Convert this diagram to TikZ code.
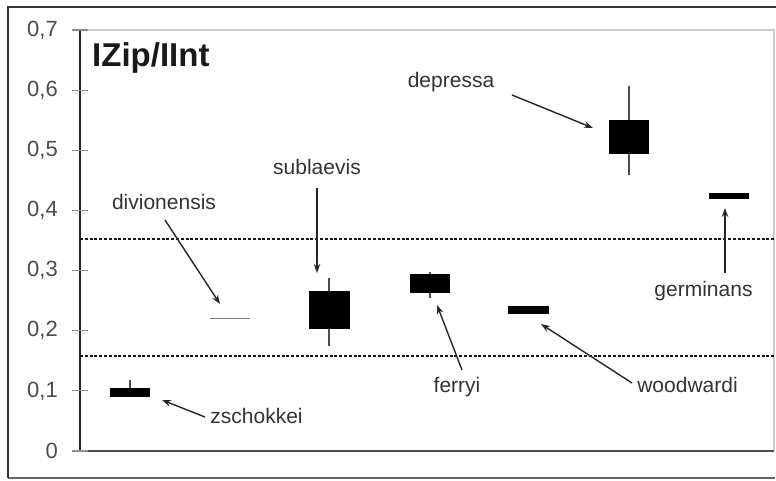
\documentclass[tikz,border=0pt]{standalone}
\usepackage{fontspec}
\setmainfont{Liberation Sans}
\usetikzlibrary{arrows.meta}
\begin{document}
\begin{tikzpicture}[x=1pt,y=-1pt,
  lbl/.style={font=\fontsize{21}{25}\selectfont, text=black!80, inner sep=1pt, anchor=base},
  ticklbl/.style={font=\fontsize{22}{26}\selectfont, text=black!70, anchor=east, inner sep=0pt},
  bar/.style={fill=black, draw=none, inner sep=0pt},
  whisk/.style={draw=black!70, line width=1.2pt},
  pointer/.style={draw=black!85, line width=1.4pt, -{Stealth[length=9pt,width=6.5pt]}},
  limit/.style={draw=black!90, line width=2.4pt, dash pattern=on 3pt off 1.8pt}]
\useasboundingbox (0,0) rectangle (776,481);
\fill[white] (0,0) rectangle (776,481);
% outer frame
\draw[black!60, line width=1.2pt] (8,478) -- (775,478);
\draw[black!80, line width=1.6pt] (8,478) -- (8,7) -- (776,7);
% plot area
\draw[black!20, line width=2.5pt] (80,30) -- (774,30) -- (774,451);
\draw[black!70, line width=1.4pt] (80,451) -- (774,451);
\draw[black!85, line width=1.4pt] (80,30) -- (80,451);
% ticks and labels
\foreach \v/\t in {0/0,1/{0,1},2/{0,2},3/{0,3},4/{0,4},5/{0,5},6/{0,6},7/{0,7}} {
  \draw[black!45, line width=1.2pt] (72,451-\v*60.14) -- (88,451-\v*60.14);
  \node[ticklbl] (t\v) at (58,451-\v*60.14) {\t};
}
% limits
\draw[limit] (80,239) -- (774,239);
\draw[limit] (80,356) -- (774,356);
% title
\node[font=\fontsize{33}{38}\selectfont\bfseries, anchor=base west, inner sep=0pt, text=black!90] (title) at (92,67) {IZip/IInt};
% zschokkei
\draw[whisk] (130,380) -- (130,392);
\node[bar, minimum width=40pt, minimum height=9pt] (zsbox) at (130,392.5) {};
% divionensis
\draw[black!50, line width=0.9pt] (210,318) -- (250,318);
% sublaevis
\draw[whisk] (329,278) -- (329,346);
\node[bar, minimum width=41pt, minimum height=38pt] (subox) at (329.5,310) {};
% ferryi
\draw[whisk] (430,272) -- (430,298);
\node[bar, minimum width=40pt, minimum height=19pt] (febox) at (430,283.5) {};
% woodwardi
\node[bar, minimum width=41pt, minimum height=8pt] (wobox) at (528.5,310) {};
% depressa
\draw[whisk] (629,86) -- (629,175);
\node[bar, minimum width=40pt, minimum height=34pt] (debox) at (629,137) {};
% germinans
\node[bar, minimum width=40pt, minimum height=6pt] (gebox) at (729,196) {};
% labels
\node[lbl] (zs) at (256.5,423) {zschokkei};
\node[lbl] (dv) at (164,210) {divionensis};
\node[lbl] (su) at (317,175) {sublaevis};
\node[lbl] (fe) at (457,392) {ferryi};
\node[lbl] (wo) at (687.5,392) {woodwardi};
\node[lbl] (de) at (451,88) {depressa};
\node[lbl] (ge) at (703.5,296) {germinans};
% arrow tails
\coordinate (zstail) at (205,417);
\coordinate (dvtail) at (165,220);
\coordinate (sutail) at (317,188);
\coordinate (fetail) at (462,370);
\coordinate (wotail) at (632,383);
\coordinate (detail) at (512,95);
\coordinate (getail) at (725,273);
% arrow tips
\coordinate (zstip) at (162,400);
\coordinate (dvtip) at (220,304);
\coordinate (sutip) at (317,273);
\coordinate (fetip) at (437,305);
\coordinate (wotip) at (541,324);
\coordinate (detip) at (593,128);
\coordinate (getip) at (725,208);
% arrows
\draw[pointer] (zstail) -- (zstip);
\draw[pointer] (dvtail) -- (dvtip);
\draw[pointer] (sutail) -- (sutip);
\draw[pointer] (fetail) -- (fetip);
\draw[pointer] (wotail) -- (wotip);
\draw[pointer] (detail) -- (detip);
\draw[pointer] (getail) -- (getip);
\end{tikzpicture}
\end{document}
